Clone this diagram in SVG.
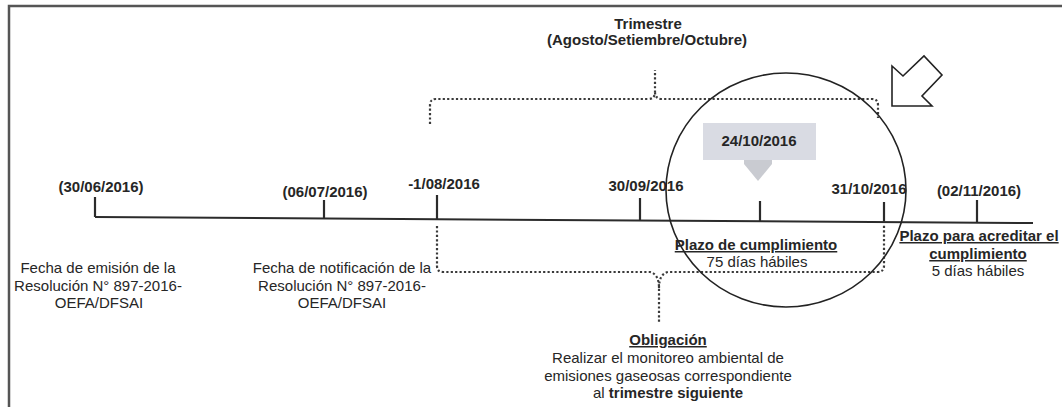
<svg xmlns="http://www.w3.org/2000/svg" width="1062" height="407" viewBox="0 0 1062 407">
<style>
text{font-family:"Liberation Sans",Arial,sans-serif;font-size:15px;fill:#262626;text-anchor:middle}
.b{font-weight:bold}
.u{text-decoration:underline}
.frame{stroke:#555;stroke-width:2.5;fill:none}
.axis{stroke:#2b2b2b;stroke-width:2;fill:none}
.tick{stroke:#2b2b2b;stroke-width:2.2}
.dot{stroke:#3a3a3a;stroke-width:2.2;stroke-dasharray:2.2 2.2;fill:none}
.ring{stroke:#222;stroke-width:1.6;fill:none}
</style>
<rect width="1062" height="407" fill="#fff"/>
<g id="frame">
<path class="frame" d="M9,407 L9,6 L1062,6"/>
</g>
<g id="connectors">
<path id="timeline" class="axis" d="M95,217 L1033,223"/>
<g id="ticks">
<line class="tick" x1="95" y1="197" x2="95" y2="217"/>
<line class="tick" x1="324" y1="200" x2="324" y2="218.5"/>
<line class="tick" x1="437" y1="195" x2="437" y2="219"/>
<line class="tick" x1="640" y1="198" x2="640" y2="220"/>
<line class="tick" x1="760" y1="201" x2="760" y2="221"/>
<line class="tick" x1="884" y1="202" x2="884" y2="221.5"/>
<line class="tick" x1="977" y1="200" x2="977" y2="222"/>
</g>
<path id="bracket-top" class="dot" d="M430,124 L430,105 Q430,99 436,99 L648,99 Q655,99 655,92 L655,70 M655,92 Q655,99 662,99 L872,99 Q878,99 878,105 L878,118"/>
<path id="bracket-bottom" class="dot" d="M437,226 L437,266 Q437,272 443,272 L650,272 Q659,274 659,288 L659,322 M659,288 Q659,274 668,272 L877,272 Q884,272 884,266 L884,224"/>
</g>
<g id="trimestre">
<text class="b" x="648" y="29">Trimestre</text>
<text class="b" x="647" y="45">(Agosto/Setiembre/Octubre)</text>
</g>
<g id="d-30-06">
<text class="b" x="101" y="192">(30/06/2016)</text>
</g>
<g id="d-06-07">
<text class="b" x="325" y="197">(06/07/2016)</text>
</g>
<g id="d-01-08">
<text class="b" x="444" y="189">-1/08/2016</text>
</g>
<g id="d-30-09">
<text class="b" x="646" y="191">30/09/2016</text>
</g>
<g id="d-31-10">
<text class="b" x="869" y="194">31/10/2016</text>
</g>
<g id="d-02-11">
<text class="b" x="979" y="196">(02/11/2016)</text>
</g>
<g id="callout-24-10">
<rect x="703" y="123" width="113" height="37" fill="#d9dbe3"/>
<polygon points="744,160 772,160 772,164 758,181 744,164" fill="#c9cbd1"/>
<text class="b" x="759" y="146">24/10/2016</text>
</g>
<g id="highlight-circle">
<ellipse class="ring" cx="786" cy="190" rx="120" ry="117"/>
</g>
<g id="pointer-arrow">
<polygon points="892,66 903,76 924,56 942,75 922,96 932,106 892,106" fill="#fff" stroke="#222" stroke-width="1.6" stroke-linejoin="miter"/>
</g>
<g id="emision">
<text x="98" y="273">Fecha de emisión de la</text>
<text x="98" y="291">Resolución N° 897-2016-</text>
<text x="99" y="308">OEFA/DFSAI</text>
</g>
<g id="notificacion">
<text x="342" y="273">Fecha de notificación de la</text>
<text x="342" y="291">Resolución N° 897-2016-</text>
<text x="342" y="308">OEFA/DFSAI</text>
</g>
<g id="plazo-cumplimiento">
<text class="b u" x="756" y="250">Plazo de cumplimiento</text>
<text x="757" y="267">75 días hábiles</text>
</g>
<g id="plazo-acreditar">
<text class="b u" x="979" y="241">Plazo para acreditar el</text>
<text class="b u" x="978" y="259">cumplimiento</text>
<text x="978" y="276">5 días hábiles</text>
</g>
<g id="obligacion">
<text class="b u" x="668" y="345">Obligación</text>
<text x="668" y="363">Realizar el monitoreo ambiental de</text>
<text x="668" y="381">emisiones gaseosas correspondiente</text>
<text x="668" y="398">al <tspan class="b">trimestre siguiente</tspan></text>
</g>
</svg>
